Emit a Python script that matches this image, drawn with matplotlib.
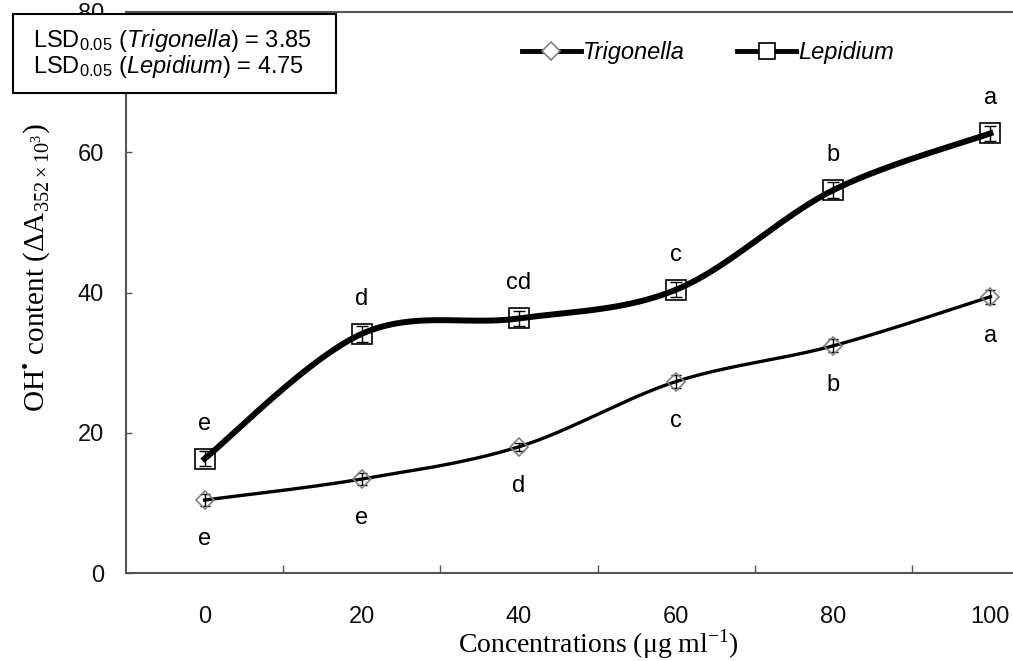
import numpy as np
import matplotlib
matplotlib.use("Agg")
import matplotlib.pyplot as plt
from matplotlib.patches import Rectangle

conc = [0, 20, 40, 60, 80, 100]
trig = [10.4, 13.4, 18.0, 27.3, 32.4, 39.4]
trig_err = [0.9, 0.8, 0.6, 0.9, 0.9, 1.0]
lep = [16.3, 34.1, 36.3, 40.4, 54.6, 62.7]
lep_err = [1.1, 1.1, 1.1, 1.1, 1.1, 1.1]
trig_letters = ["e", "e", "d", "c", "b", "a"]
lep_letters = ["e", "d", "cd", "c", "b", "a"]
x_ticks = [0, 20, 40, 60, 80, 100]
y_ticks = [0, 20, 40, 60, 80]

plt.rcParams["font.family"] = ["Liberation Sans", "DejaVu Sans"]
plt.rcParams["mathtext.fontset"] = "custom"
plt.rcParams["mathtext.rm"] = "Liberation Serif"
plt.rcParams["mathtext.sf"] = "Liberation Sans"
plt.rcParams["mathtext.it"] = "Liberation Sans:italic"

W, H = 1013, 661
AX_COL = "#555555"


def smooth(xs, ys, sx, sy, n=40):
    # Excel-like smoothed line (Catmull-Rom bezier in screen space)
    p = np.column_stack([np.asarray(xs, float) * sx, np.asarray(ys, float) * sy])
    ext = np.vstack([p[0], p, p[-1]])
    out = []
    t = np.linspace(0, 1, n)[:, None]
    for i in range(len(p) - 1):
        p0, p1, p2, p3 = ext[i], ext[i + 1], ext[i + 2], ext[i + 3]
        c1 = p1 + (p2 - p0) / 6
        c2 = p2 - (p3 - p1) / 6
        seg = ((1 - t) ** 3) * p1 + 3 * ((1 - t) ** 2) * t * c1 + 3 * (1 - t) * t ** 2 * c2 + t ** 3 * p2
        out.append(seg if i == 0 else seg[1:])
    out = np.vstack(out)
    return out[:, 0] / sx, out[:, 1] / sy


fig = plt.figure(figsize=(W / 100, H / 100), dpi=100)
ax = fig.add_axes([126 / W, 1 - 573 / H, (1069 - 126) / W, (573 - 12) / H])
ax.set_xlim(-10, 110)
ax.set_ylim(0, 80)

sx, sy = 157 / 20, 140 / 20
tx, ty = smooth(conc, trig, sx, sy)
lx, ly = smooth(conc, lep, sx, sy)

ax.plot(tx, ty, color="black", lw=2.4, zorder=3)
ax.plot(lx, ly, color="black", lw=4.3, zorder=3)
ax.errorbar(conc, trig, yerr=trig_err, fmt="none", ecolor="black", elinewidth=1, capsize=3.5, zorder=4)
ax.errorbar(conc, lep, yerr=lep_err, fmt="none", ecolor="black", elinewidth=1, capsize=4.5, zorder=4)
ax.plot(conc, trig, ls="none", marker="D", ms=9, mfc="none", mec="#808080", mew=1.2, zorder=5)
ax.plot(conc, lep, ls="none", marker="s", ms=14, mfc="none", mec="black", mew=1.2, zorder=5)

for x, y, s in zip(conc, trig, trig_letters):
    ax.annotate(s, (x, y), xytext=(0, -39), textcoords="offset pixels",
                ha="center", va="center", fontsize=17)
for x, y, s in zip(conc, lep, lep_letters):
    ax.annotate(s, (x, y), xytext=(0, 35), textcoords="offset pixels",
                ha="center", va="center", fontsize=17)

# legend handles
h1, = ax.plot([], [], color="black", lw=3.5, marker="D", ms=9, mfc="white", mec="#808080", mew=1.2)
h2, = ax.plot([], [], color="black", lw=3.5, marker="s", ms=12, mfc="white", mec="black", mew=1.2)
leg = ax.legend([h1, h2], ["Trigonella", "Lepidium"], loc="center",
                bbox_to_anchor=(708 / W, 1 - 53 / H), bbox_transform=fig.transFigure,
                ncol=2, frameon=False, handlelength=2.5, handletextpad=0.1,
                columnspacing=2.2, prop={"size": 17, "style": "italic"})

# axes styling
ax.spines["right"].set_visible(False)
for side in ["left", "bottom", "top"]:
    ax.spines[side].set_color(AX_COL)
    ax.spines[side].set_linewidth(1.5)

ax.set_xticks(x_ticks)
ax.set_xticklabels([str(v) for v in x_ticks])
ax.set_xticks([10, 30, 50, 70, 90, 110], minor=True)
ax.tick_params(axis="x", which="major", length=0, pad=24, labelsize=17, labelcolor="#111111")
ax.tick_params(axis="x", which="minor", direction="in", length=6, width=1, color=AX_COL)
ax.set_yticks(y_ticks)
ax.tick_params(axis="y", which="major", direction="in", length=4, width=1, color=AX_COL,
               pad=16, labelsize=17, labelcolor="#111111")

fig.text(37 / W, 1 - 268 / H, "OH$^{•}$ content ($\\Delta$A$_{352\\times10^{3}}$)",
         rotation=90, ha="center", va="center", fontsize=21, family="Liberation Serif")
fig.text(598 / W, 1 - 644 / H, r"Concentrations ($\mathrm{\mu}$g ml$^{\mathrm{-1}}$)",
         ha="center", va="center", fontsize=20, family="Liberation Serif")

# LSD box
box = Rectangle((13 / W, 1 - 93 / H), (336 - 13) / W, (93 - 14) / H, transform=fig.transFigure,
                facecolor="white", edgecolor="black", lw=1.5, zorder=10)
fig.add_artist(box)
fig.text(33 / W, 1 - 40 / H, r"LSD$_{\mathsf{0.05}}$ ($\mathit{Trigonella}$) = 3.85",
         ha="left", va="center", fontsize=17, zorder=11)
fig.text(33 / W, 1 - 67 / H, r"LSD$_{\mathsf{0.05}}$ ($\mathit{Lepidium}$) = 4.75",
         ha="left", va="center", fontsize=17, zorder=11)

fig.savefig("out.png", dpi=100)
